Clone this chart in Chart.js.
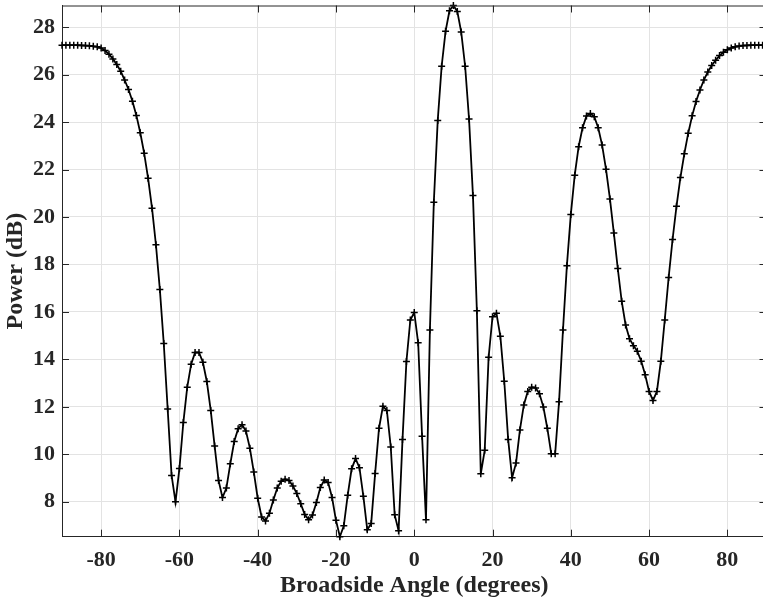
<!DOCTYPE html>
<html lang="en">
<head>
  <meta charset="UTF-8">
  <title>Broadside Power Pattern</title>
  <script src="https://cdn.jsdelivr.net/npm/chart.js"></script>
  <style>
    html, body {
      margin: 0;
      padding: 0;
      background: #ffffff;
      overflow: hidden;
    }
    #wrap {
      width: 772px;
      height: 602px;
    }
  </style>
</head>
<body>

<div id="wrap">
  <canvas id="patternChart" width="772" height="602"></canvas>
</div>

<script>
  // Scan angles (degrees)
  const angles = [
    -90, -89, -88, -87, -86, -85, -84, -83, -82, -81,
    -80, -79, -78, -77, -76, -75, -74, -73, -72, -71,
    -70, -69, -68, -67, -66, -65, -64, -63, -62, -61,
    -60, -59, -58, -57, -56, -55, -54, -53, -52, -51,
    -50, -49, -48, -47, -46, -45, -44, -43, -42, -41,
    -40, -39, -38, -37, -36, -35, -34, -33, -32, -31,
    -30, -29, -28, -27, -26, -25, -24, -23, -22, -21,
    -20, -19, -18, -17, -16, -15, -14, -13, -12, -11,
    -10, -9, -8, -7, -6, -5, -4, -3, -2, -1,
    0, 1, 2, 3, 4, 5, 6, 7, 8, 9,
    10, 11, 12, 13, 14, 15, 16, 17, 18, 19,
    20, 21, 22, 23, 24, 25, 26, 27, 28, 29,
    30, 31, 32, 33, 34, 35, 36, 37, 38, 39,
    40, 41, 42, 43, 44, 45, 46, 47, 48, 49,
    50, 51, 52, 53, 54, 55, 56, 57, 58, 59,
    60, 61, 62, 63, 64, 65, 66, 67, 68, 69,
    70, 71, 72, 73, 74, 75, 76, 77, 78, 79,
    80, 81, 82, 83, 84, 85, 86, 87, 88, 89,
    90
  ];

  // Power (dB)
  const power = [
    27.24, 27.24, 27.24, 27.24, 27.24, 27.23, 27.22, 27.21, 27.19, 27.17,
    27.12, 27.01, 26.86, 26.66, 26.42, 26.14, 25.77, 25.37, 24.88, 24.28,
    23.55, 22.68, 21.63, 20.37, 18.83, 16.95, 14.67, 11.91, 9.11, 8.00,
    9.40, 11.34, 12.83, 13.80, 14.29, 14.29, 13.88, 13.07, 11.85, 10.35,
    8.90, 8.18, 8.58, 9.60, 10.54, 11.08, 11.25, 10.98, 10.26, 9.26,
    8.15, 7.36, 7.19, 7.52, 8.08, 8.58, 8.87, 8.95, 8.90, 8.67,
    8.35, 7.92, 7.47, 7.24, 7.44, 7.97, 8.60, 8.92, 8.81, 8.18,
    7.22, 6.53, 6.99, 8.28, 9.39, 9.82, 9.44, 8.23, 6.82, 7.09,
    9.19, 11.10, 12.03, 11.85, 10.31, 7.45, 6.78, 10.63, 13.91, 15.66,
    15.98, 14.70, 10.76, 7.24, 15.24, 20.62, 24.07, 26.35, 27.82, 28.69,
    28.91, 28.66, 27.79, 26.35, 24.13, 20.90, 16.05, 9.18, 10.17, 14.09,
    15.80, 15.94, 14.97, 13.08, 10.62, 9.01, 9.63, 11.03, 12.08, 12.65,
    12.83, 12.80, 12.55, 11.99, 11.10, 10.02, 10.02, 12.22, 15.24, 17.95,
    20.10, 21.76, 22.96, 23.76, 24.25, 24.36, 24.22, 23.76, 23.03, 22.01,
    20.76, 19.32, 17.83, 16.45, 15.45, 14.87, 14.58, 14.34, 13.92, 13.35,
    12.65, 12.27, 12.65, 13.92, 15.66, 17.45, 19.05, 20.45, 21.66, 22.66,
    23.53, 24.26, 24.87, 25.35, 25.77, 26.11, 26.38, 26.60, 26.80, 26.94,
    27.05, 27.12, 27.17, 27.20, 27.22, 27.23, 27.24, 27.24, 27.24, 27.24,
    27.24
  ];

  const xTicks = [-80, -60, -40, -20, 0, 20, 40, 60, 80];
  const yTicks = [8, 10, 12, 14, 16, 18, 20, 22, 24, 26, 28];

  const axisColor = '#262626';
  const gridColor = '#e3e3e3';
  const fontFamily = "'Liberation Serif', 'Times New Roman', serif";

  // MATLAB style box: top/right edges plus inward tick marks
  const boxPlugin = {
    id: 'box',
    afterDatasetsDraw(chart) {
      const { ctx, chartArea: a, scales } = chart;
      const len = 7;
      ctx.save();
      ctx.strokeStyle = axisColor;
      ctx.lineWidth = 1;
      ctx.beginPath();
      ctx.moveTo(a.left, a.top + 0.5);
      ctx.lineTo(a.right, a.top + 0.5);
      ctx.moveTo(a.right - 0.5, a.top);
      ctx.lineTo(a.right - 0.5, a.bottom);
      xTicks.forEach(v => {
        const px = Math.round(scales.x.getPixelForValue(v)) + 0.5;
        ctx.moveTo(px, a.bottom);
        ctx.lineTo(px, a.bottom - len);
        ctx.moveTo(px, a.top);
        ctx.lineTo(px, a.top + len);
      });
      yTicks.forEach(v => {
        const py = Math.round(scales.y.getPixelForValue(v)) + 0.5;
        ctx.moveTo(a.left, py);
        ctx.lineTo(a.left + len, py);
        ctx.moveTo(a.right, py);
        ctx.lineTo(a.right - len, py);
      });
      ctx.stroke();
      ctx.restore();
    }
  };

  new Chart(document.getElementById('patternChart'), {
    type: 'line',
    data: {
      datasets: [{
        label: 'Power',
        data: angles.map((a, i) => ({ x: a, y: power[i] })),
        borderColor: '#000000',
        borderWidth: 1.8,
        tension: 0,
        pointStyle: 'cross',
        pointRadius: 3.5,
        pointBorderWidth: 1.5,
        pointBorderColor: '#000000',
        pointBackgroundColor: '#000000',
        clip: 5
      }]
    },
    options: {
      responsive: false,
      animation: false,
      events: [],
      layout: { padding: { left: 0, right: 2.4, top: 4, bottom: 0 } },
      plugins: {
        legend: { display: false },
        tooltip: { enabled: false }
      },
      scales: {
        x: {
          type: 'linear',
          min: -90,
          max: 90,
          afterBuildTicks: s => { s.ticks = xTicks.map(v => ({ value: v })); },
          afterFit: s => {
            s.height = 65.3;
            s.paddingLeft = 0;
            s.paddingRight = 0;
          },
          grid: { color: gridColor, drawTicks: false },
          border: { display: true, color: axisColor, width: 1 },
          ticks: {
            color: '#262626',
            padding: 10,
            maxRotation: 0,
            font: { family: fontFamily, size: 22, weight: 'bold' }
          },
          title: {
            display: true,
            text: 'Broadside Angle (degrees)',
            color: '#262626',
            padding: { top: 0, bottom: 2 },
            font: { family: fontFamily, size: 24, weight: 'bold' }
          }
        },
        y: {
          min: 6.53,
          max: 28.91,
          afterBuildTicks: s => { s.ticks = yTicks.map(v => ({ value: v })); },
          afterFit: s => {
            s.width = 62;
            s.paddingTop = 0;
            s.paddingBottom = 0;
          },
          grid: { color: gridColor, drawTicks: false },
          border: { display: true, color: axisColor, width: 1 },
          ticks: {
            color: '#262626',
            padding: 7,
            font: { family: fontFamily, size: 22, weight: 'bold' }
          },
          title: {
            display: true,
            text: 'Power (dB)',
            color: '#262626',
            padding: { top: 1, bottom: 0 },
            font: { family: fontFamily, size: 24, weight: 'bold' }
          }
        }
      }
    },
    plugins: [boxPlugin]
  });
</script>

</body>
</html>
